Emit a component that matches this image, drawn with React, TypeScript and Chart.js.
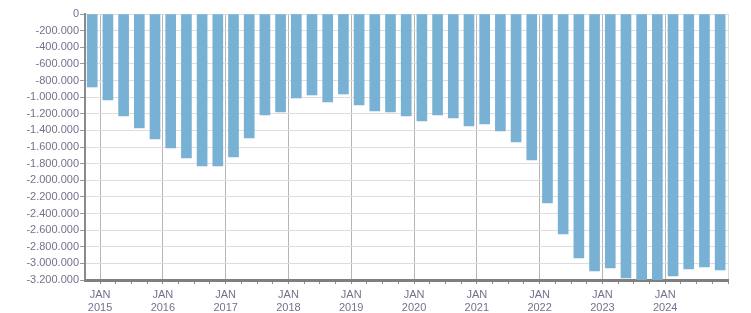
import React, { useEffect, useRef } from "react";
import { Chart, registerables } from "chart.js";

Chart.register(...registerables);

// Quarters shown (year, quarter)
const quarters: string[] = [
  "2014-Q4",
  "2015-Q1", "2015-Q2", "2015-Q3", "2015-Q4",
  "2016-Q1", "2016-Q2", "2016-Q3", "2016-Q4",
  "2017-Q1", "2017-Q2", "2017-Q3", "2017-Q4",
  "2018-Q1", "2018-Q2", "2018-Q3", "2018-Q4",
  "2019-Q1", "2019-Q2", "2019-Q3", "2019-Q4",
  "2020-Q1", "2020-Q2", "2020-Q3", "2020-Q4",
  "2021-Q1", "2021-Q2", "2021-Q3", "2021-Q4",
  "2022-Q1", "2022-Q2", "2022-Q3", "2022-Q4",
  "2023-Q1", "2023-Q2", "2023-Q3", "2023-Q4",
  "2024-Q1", "2024-Q2", "2024-Q3", "2024-Q4",
];

const values: number[] = [
  -878000,
  -1034000, -1227000, -1371000, -1503000,
  -1611000, -1732000, -1828000, -1828000,
  -1720000, -1491000, -1215000, -1179000,
  -1010000, -974000, -1058000, -962000,
  -1094000, -1167000, -1179000, -1227000,
  -1287000, -1215000, -1251000, -1347000,
  -1323000, -1407000, -1539000, -1756000,
  -2273000, -2646000, -2935000, -3091000,
  -3055000, -3175000, -3225000, -3215000,
  -3151000, -3067000, -3043000, -3079000,
];

const yearTicks: number[] = [2015, 2016, 2017, 2018, 2019, 2020, 2021, 2022, 2023, 2024];
const yTickMin = -3200000;
const yTickMax = 0;
const yTickStep = 200000;
const monthLabel = "JAN";

function quarterPos(q: string): number {
  const [y, qq] = q.split("-Q");
  return Number(y) + (Number(qq) - 1) * 0.25 + 0.125;
}

function fmt(v: number): string {
  const neg = v < 0;
  const s = Math.round(Math.abs(v)).toString();
  const withDots = s.replace(/\B(?=(\d{3})+(?!\d))/g, ".");
  return (neg ? "-" : "") + withDots;
}

export default function App() {
  const ref = useRef<HTMLCanvasElement | null>(null);

  useEffect(() => {
    document.body.style.margin = "0";
    const canvas = ref.current;
    if (!canvas) return;
    const textColor = "#786f8c";
    const font = { family: "'Liberation Sans', Arial, sans-serif", size: 11, lineHeight: 1.15 };
    const xTickVals: number[] = [];
    for (let v = yearTicks[0]; v <= yearTicks[yearTicks.length - 1] + 1.0001; v += 0.25) {
      xTickVals.push(Math.round(v * 100) / 100);
    }
    const lastEdge = yearTicks[yearTicks.length - 1] + 1;

    const chart = new Chart(canvas, {
      type: "bar",
      data: {
        datasets: [
          {
            data: quarters.map((q, i) => ({ x: quarterPos(q), y: values[i] })),
            backgroundColor: "#78b1d3",
            borderWidth: 0,
            barThickness: 10,
          },
        ],
      },
      options: {
        animation: false,
        responsive: false,
        maintainAspectRatio: false,
        layout: { padding: { left: 0, right: 23, top: 14, bottom: 0 } },
        plugins: { legend: { display: false }, tooltip: { enabled: false } },
        scales: {
          x: {
            type: "linear",
            offset: false,
            min: yearTicks[0] - 0.24,
            max: lastEdge,
            afterBuildTicks: (axis: any) => {
              axis.ticks = xTickVals.map((v) => ({ value: v }));
            },
            afterFit: (axis: any) => {
              axis.height = 33;
            },
            ticks: {
              autoSkip: false,
              maxRotation: 0,
              padding: 5,
              color: textColor,
              font,
              callback: (v: any) => {
                const n = Number(v);
                if (Math.abs(n - Math.round(n)) < 1e-6 && n < lastEdge) {
                  return [monthLabel, String(Math.round(n))];
                }
                return "";
              },
            },
            grid: {
              offset: false,
              drawOnChartArea: true,
              tickLength: 4,
              lineWidth: 1,
              color: (ctx: any) => {
                const v = ctx.tick ? ctx.tick.value : 0;
                if (Math.abs(v - lastEdge) < 1e-6) return "#dddddd";
                return Math.abs(v - Math.round(v)) < 1e-6 ? "#b5b5b5" : "rgba(0,0,0,0)";
              },
              tickColor: "#8a8a8a",
            },
            border: { display: true, color: "#7f7f7f", width: 3 },
          },
          y: {
            min: yTickMin,
            max: yTickMax,
            afterFit: (axis: any) => {
              axis.width = 85;
            },
            ticks: {
              stepSize: yTickStep,
              padding: 1,
              color: textColor,
              font,
              callback: (v: any) => fmt(Number(v)),
            },
            grid: {
              color: "#dddddd",
              lineWidth: 1,
              tickLength: 5,
              tickColor: "#9a9a9a",
            },
            border: { display: true, color: "#8a8a8a", width: 2 },
          },
        },
      },
    });
    return () => chart.destroy();
  }, []);

  return (
    <div style={{ width: 751, height: 313 }}>
      <canvas ref={ref} width={751} height={313} style={{ display: "block" }} />
    </div>
  );
}
